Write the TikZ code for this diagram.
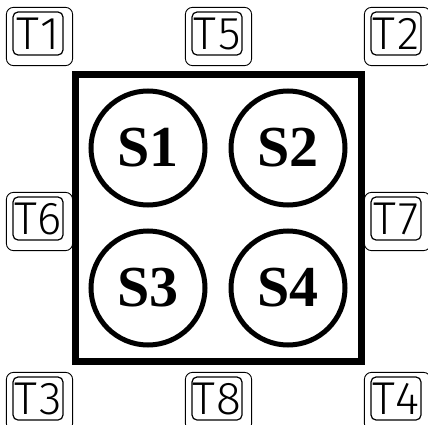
\documentclass[tikz,border=0pt]{standalone}
\usepackage{fontspec}
\setmainfont{Liberation Serif}
\newfontfamily\keyfont[LetterSpace=6]{Fira Sans Light}
\tikzset{
  keycap/.style={draw, line width=1.2pt, rounded corners=5pt, minimum width=50pt,
    minimum height=43pt, inner sep=0pt, font=\keyfont\fontsize{46}{46}\selectfont},
  keyouter/.style={draw, line width=0.9pt, rounded corners=7pt},
  slot/.style={circle, draw, line width=5pt, minimum size=114pt, inner sep=0pt,
    font=\bfseries\fontsize{58}{58}\selectfont},
  frame/.style={draw, line width=7pt}
}
\begin{document}
\begin{tikzpicture}[x=1pt,y=-1pt]
\useasboundingbox (0,0) rectangle (428,425);
\begin{scope}
\clip (0,0) rectangle (428,425);
\draw[frame] (75,75) rectangle (361,361);
\node[slot] (s1) at (148,148) {S1};
\node[slot] (s2) at (288,148) {S2};
\node[slot] (s3) at (148,288) {S3};
\node[slot] (s4) at (288,288) {S4};
\foreach \n/\x/\y in {T1/38/33.5, T5/217/33.5, T2/396/33.5, T6/38/218.5, T7/396/218.5, T3/38/398.5, T8/217/398.5, T4/396/398.5}{
  \node[keycap] (k\n) at (\x,\y) {\n};
  \draw[keyouter] ([xshift=-6pt,yshift=4pt]k\n.north west) rectangle ([xshift=9pt,yshift=-10pt]k\n.south east);
}
\end{scope}
\end{tikzpicture}
\end{document}
